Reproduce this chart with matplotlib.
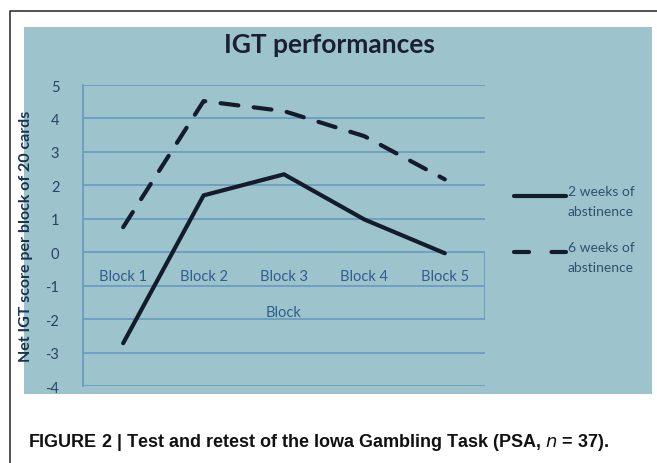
import matplotlib
matplotlib.use('Agg')
import matplotlib.pyplot as plt
from matplotlib.patches import Rectangle
from matplotlib.lines import Line2D
import numpy as np

# data
blocks = ['Block 1', 'Block 2', 'Block 3', 'Block 4', 'Block 5']
weeks2 = [-2.72, 1.70, 2.33, 0.98, -0.03]
weeks6 = [0.75, 4.52, 4.22, 3.47, 2.18]
series_names = ['2 weeks of\nabstinence', '6 weeks of\nabstinence']
y_ticks = [5, 4, 3, 2, 1, 0, -1, -2, -3, -4]

plt.rcParams['font.family'] = ['Lato', 'DejaVu Sans']
plt.rcParams['axes.unicode_minus'] = False

slide_bg = '#9dc4cd'
grid_col = '#6b9dc2'
ink = '#141c2c'
lw = 3.0

fig = plt.figure(figsize=(6.57, 4.64), dpi=100)
fig.patch.set_facecolor('white')

# photo of the slide
fig.add_artist(Rectangle((0.0365, 0.1487), 0.9559, 0.791, transform=fig.transFigure,
                         facecolor=slide_bg, edgecolor='none', zorder=0))
# page frame
fig.add_artist(Line2D([0.0152, 0.0152, 1.0], [0.0, 0.974, 0.974], transform=fig.transFigure,
                      color='#333333', lw=1.2))

ax = fig.add_axes([0.1263, 0.1659, 0.6119, 0.6487])
ax.set_facecolor('none')
x = np.arange(1, len(blocks) + 1)

ax.plot(x, weeks2, color=ink, lw=lw, solid_capstyle='round', solid_joinstyle='round', zorder=3)
ax.plot(x, weeks6, color=ink, lw=lw, linestyle=(0, (4.3, 3.7)), dash_capstyle='round', zorder=3)

ax.set_xlim(0.5, len(blocks) + 0.5)
ax.set_ylim(min(y_ticks), max(y_ticks))
ax.set_yticks(y_ticks)
ax.set_xticks([])
ax.grid(axis='y', color=grid_col, lw=1.3)
for s in ['top', 'right', 'bottom']:
    ax.spines[s].set_visible(False)
ax.spines['left'].set_color(grid_col)
ax.spines['left'].set_linewidth(1.3)
ax.vlines(ax.get_xlim()[1], -2, 0, color=grid_col, lw=1.3)
ax.tick_params(axis='y', length=0, pad=17, labelsize=10.5, labelcolor='#2a4262')

# category labels sit inside the plot, just under the zero line
for xi, name in zip(x, blocks):
    ax.text(xi, -0.72, name, ha='center', va='center', fontsize=10.5, color='#2f5d8c')
ax.text(np.mean(x), -1.8, 'Block', ha='center', va='center', fontsize=10.5, color='#2f5d8c')

ax.set_ylabel('Net IGT score per block of 20 cards', fontsize=11.5, fontweight='bold', color='#1c3350')
ax.yaxis.set_label_coords(-0.124, 0.5)

fig.text(0.502, 0.886, 'IGT performances', ha='center', va='baseline',
         fontsize=19, fontweight='bold', color='#1a1f36')

# legend keys drawn by hand, key level with the first text line
fig.add_artist(Line2D([0.783, 0.861], [0.5754, 0.5754], transform=fig.transFigure,
                      color=ink, lw=lw, solid_capstyle='round'))
fig.add_artist(Line2D([0.783, 0.861], [0.4547, 0.4547], transform=fig.transFigure,
                      color=ink, lw=lw, linestyle=(0, (3.6, 5.4)), dash_capstyle='round'))
for y0, name in zip([0.5754, 0.4547], series_names):
    fig.text(0.8645, y0, name, ha='left', va='top', fontsize=10, color='#30506e',
             linespacing=1.75).set_va('center_baseline')

fig.text(0.0426, 0.036, 'FIGURE 2 | Test and retest of the Iowa Gambling Task (PSA, $\\mathit{n}$ = 37).',
         ha='left', va='baseline', fontsize=13, fontweight='bold', color='#111111',
         family=['Liberation Sans', 'DejaVu Sans'])

fig.savefig('out.png', dpi=100)
